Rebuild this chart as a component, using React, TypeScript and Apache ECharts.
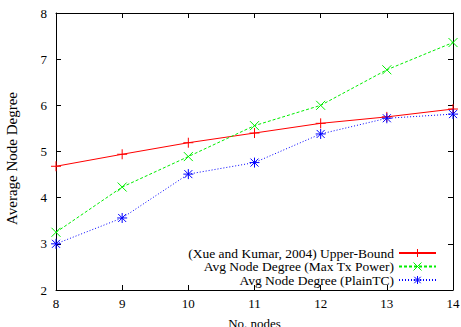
import React, { useEffect, useRef } from "react";
import * as echarts from "echarts";

const nodes = [8, 9, 10, 11, 12, 13, 14];
const upperBound = [4.68, 4.94, 5.19, 5.40, 5.61, 5.75, 5.92];
const maxTxPower = [3.25, 4.23, 4.89, 5.56, 6.00, 6.77, 7.36];
const plainTC = [3.0, 3.56, 4.51, 4.76, 5.38, 5.72, 5.81];
const seriesNames = [
  "(Xue and Kumar, 2004) Upper-Bound",
  "Avg Node Degree (Max Tx Power)",
  "Avg Node Degree (PlainTC)",
];
const seriesColors = ["#ff0000", "#00ee00", "#0000ff"];

const FONT = "'Liberation Serif', 'Times New Roman', serif";
const PLUS = "path://M5,0L5,10M0,5L10,5";
const CROSS = "path://M0,0L10,10M10,0L0,10";
const STAR = "path://M5,0L5,10M0,5L10,5M1,1L9,9M9,1L1,9";

export default function App() {
  const ref = useRef<HTMLDivElement>(null);
  useEffect(() => {
    document.body.style.margin = "0";
    const chart = echarts.init(ref.current!, null, { renderer: "svg" });
    const pairs = (ys: number[]) => nodes.map((x, i) => [x, ys[i]]);
    const mk = (name: string, ys: number[], color: string, symbol: string, type: any, size: number) => ({
      name,
      type: "line",
      data: pairs(ys),
      symbol,
      symbolSize: size,
      showSymbol: true,
      lineStyle: { color, width: 1, type },
      itemStyle: { color, borderColor: color, borderWidth: 1 },
      emphasis: { disabled: true },
    });
    const axisText = { color: "#000", fontFamily: FONT, fontSize: 13 };
    chart.setOption({
      animation: false,
      textStyle: { fontFamily: FONT },
      grid: { left: 56, right: 8, top: 13, bottom: 37, outerBoundsMode: "none", containLabel: false },
      legend: seriesNames.map((n, i) => ({
        data: [n],
        orient: "vertical",
        align: "right",
        right: 24,
        top: 246 + i * 13.5,
        itemWidth: 37,
        itemHeight: 10,
        padding: 0,
        selectedMode: false,
        itemStyle: { borderColor: seriesColors[i], borderWidth: 1 },
        textStyle: { ...axisText, fontSize: 13.5 },
      })),
      xAxis: [
        {
          type: "value",
          min: 8,
          max: 14,
          interval: 1,
          name: "No. nodes",
          nameLocation: "middle",
          nameGap: 27,
          nameTextStyle: { ...axisText },
          axisLine: { lineStyle: { color: "#000", width: 1 } },
          axisTick: { inside: true, length: 5, lineStyle: { color: "#000" } },
          axisLabel: { ...axisText, margin: 7 },
          splitLine: { show: false },
        },
        {
          type: "value",
          position: "top",
          min: 8,
          max: 14,
          interval: 1,
          axisLine: { show: true, lineStyle: { color: "#000", width: 1 } },
          axisTick: { show: true, inside: true, length: 5, lineStyle: { color: "#000" } },
          axisLabel: { show: false },
          splitLine: { show: false },
        },
      ],
      yAxis: [
        {
          type: "value",
          min: 2,
          max: 8,
          interval: 1,
          name: "Average Node Degree",
          nameLocation: "middle",
          nameGap: 37,
          nameRotate: 90,
          nameTextStyle: { ...axisText, fontSize: 15, padding: [0, 14, 0, 0] },
          axisLine: { show: true, lineStyle: { color: "#000", width: 1 } },
          axisTick: { show: true, inside: true, length: 5, lineStyle: { color: "#000" } },
          axisLabel: { ...axisText, margin: 9 },
          splitLine: { show: false },
        },
        {
          type: "value",
          position: "right",
          min: 2,
          max: 8,
          interval: 1,
          axisLine: { show: true, lineStyle: { color: "#000", width: 1 } },
          axisTick: { show: true, inside: true, length: 5, lineStyle: { color: "#000" } },
          axisLabel: { show: false },
          splitLine: { show: false },
        },
      ],
      series: [
        mk(seriesNames[0], upperBound, seriesColors[0], PLUS, "solid", 10),
        mk(seriesNames[1], maxTxPower, seriesColors[1], CROSS, [3, 2], 9),
        mk(seriesNames[2], plainTC, seriesColors[2], STAR, [1, 2], 10),
      ],
    });
    return () => chart.dispose();
  }, []);
  return <div ref={ref} style={{ width: 461, height: 327, position: "absolute", left: 0, top: 0 }} />;
}
